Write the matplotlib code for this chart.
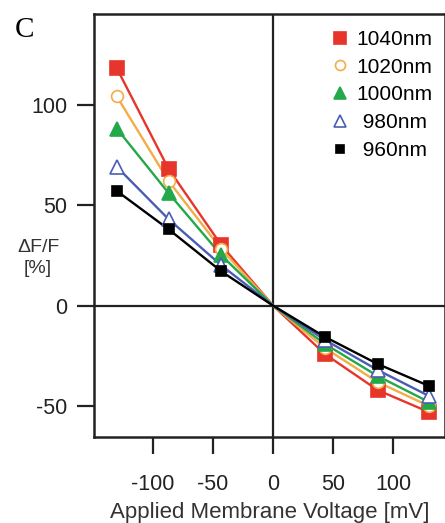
import matplotlib
matplotlib.use("Agg")
import matplotlib.pyplot as plt

plt.rcParams['font.family'] = ['Liberation Sans', 'DejaVu Sans']
plt.rcParams['axes.unicode_minus'] = False

# applied membrane voltage [mV]
voltage = [-130, -87, -43, 0, 43, 87, 130]

# dF/F [%] for each excitation wavelength
df_1040 = [118, 68, 30, 0, -24, -42, -53]
df_1020 = [104, 62, 28, 0, -21, -38, -50]
df_1000 = [88, 56, 25, 0, -19, -35, -48]
df_980 = [69, 43, 20, 0, -17, -32, -45]
df_960 = [57, 38, 17, 0, -15.5, -29, -40]

labels = ['1040nm', '1020nm', '1000nm', ' 980nm', ' 960nm']
colors = ['#e8352b', '#f2ad48', '#23a84a', '#4a5db5', '#000000']

fig = plt.figure(figsize=(4.45, 5.23), dpi=100)
ax = fig.add_axes([94 / 445, 86 / 523, 351 / 445, 423 / 523])

series = [df_1040, df_1020, df_1000, df_980, df_960]
markers = ['s', 'o', '^', '^', 's']
filled = [True, False, True, False, True]
msizes = [9.5, 8.5, 9.5, 9.5, 7]

for ys, lab, c, m, f, ms in zip(series, labels, colors, markers, filled, msizes):
    # fit line through the origin
    ax.plot(voltage, ys, '-', color=c, lw=1.7, zorder=2)
    # measured points (origin is not a measured point)
    xs = [v for v in voltage if v != 0]
    yv = [y for v, y in zip(voltage, ys) if v != 0]
    ax.plot(xs, yv, linestyle='none', marker=m, ms=ms, color=c,
            markerfacecolor=c if f else 'white', markeredgewidth=1.2,
            label=lab, zorder=3)

ax.axhline(0, color='#222222', lw=1.6, zorder=1)
ax.axvline(0, color='#222222', lw=1.6, zorder=1)

ax.set_xlim(-149, 143)
ax.set_ylim(-65.3, 145)
ax.set_xticks([-100, -50, 0, 50, 100])
ax.set_yticks([-50, 0, 50, 100])
ax.tick_params(direction='out', length=12, width=1.6, labelsize=15.5,
               colors='#222222')
ax.tick_params(axis='x', pad=15)
ax.tick_params(axis='y', pad=7)
for s in ax.spines.values():
    s.set_linewidth(1.8)
    s.set_color('#222222')

ax.set_xlabel('Applied Membrane Voltage [mV]', fontsize=16, color='#333333', labelpad=5)
fig.text(38 / 445, 1 - 258 / 523, '\u0394F/F\n[%]', fontsize=14, color='#333333',
         ha='center', va='center', linespacing=1.3)
fig.text(25 / 445, 1 - 30 / 523, 'C', fontsize=21, family='Liberation Serif',
         ha='center', va='center')

leg = ax.legend(loc='upper right', bbox_to_anchor=(433 / 445, 1 - 30 / 523),
                bbox_transform=fig.transFigure, frameon=False, fontsize=15,
                handlelength=0.8, handletextpad=0.4, labelspacing=0.42,
                borderaxespad=0, borderpad=0, markerscale=0.85)

fig.savefig('out.png', dpi=100)
